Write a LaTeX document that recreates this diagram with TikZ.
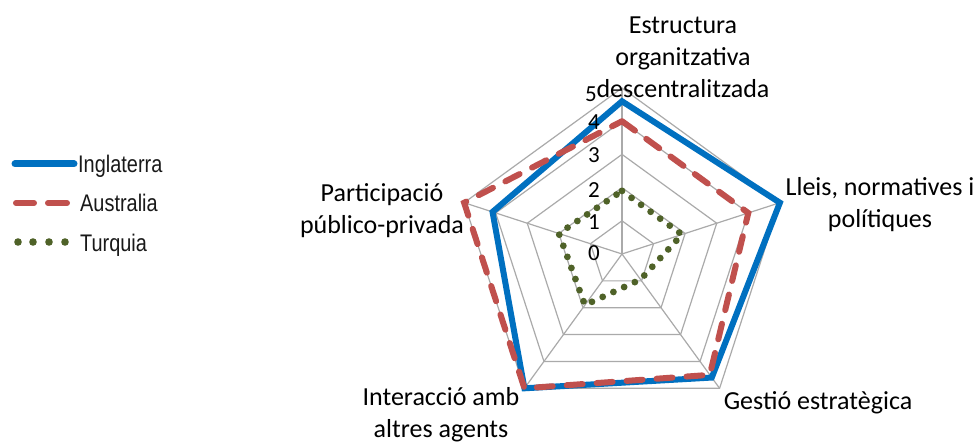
\documentclass[tikz,border=0pt]{standalone}
\usepackage{fontspec}
\setmainfont{Carlito}
\newfontfamily\legendfont[FakeStretch=0.83]{Liberation Sans}
\definecolor{ingblue}{RGB}{0,112,192}
\definecolor{ausred}{RGB}{192,80,77}
\definecolor{turgreen}{RGB}{79,98,40}
\definecolor{gridgray}{RGB}{170,170,170}
\def\rdu{33.2}
\tikzset{
  gridline/.style={draw=gridgray, line width=1.2pt},
  ingline/.style={draw=ingblue, line width=6pt, line join=miter},
  ausline/.style={draw=ausred, line width=6pt, line cap=round, dash pattern=on 16pt off 14pt},
  turline/.style={draw=turgreen, line width=6.8pt, line cap=round, dash pattern=on 0pt off 11.8pt},
  catlabel/.style={font=\fontsize{26}{32}\selectfont, align=center, inner sep=0pt},
  axlabel/.style={font=\fontsize{23}{26}\selectfont, inner sep=0pt, anchor=east},
  legtext/.style={font=\legendfont\fontsize{24}{28}\selectfont, inner sep=0pt, anchor=base west, text=black!90},
  turdot/.style={fill=turgreen, draw=none},
}
\begin{document}
\begin{tikzpicture}[x=1pt,y=1pt]
\useasboundingbox (0,0) rectangle (977,442);
\fill[white] (0,0) rectangle (977,442);

% ---------------- radar chart ----------------
\begin{scope}[shift={(622,188)}]
  \coordinate (c) at (0,0);
  \foreach \r in {1,...,5}{
    \draw[gridline] (90:{\r*\rdu}) -- (18:{\r*\rdu}) -- (-54:{\r*\rdu}) -- (-126:{\r*\rdu}) -- (162:{\r*\rdu}) -- cycle;
  }
  \foreach \a in {90,18,-54,-126,162}{
    \draw[gridline] (c) -- (\a:{5*\rdu});
  }
  % Inglaterra
  \draw[ingline] (90:{4.6*\rdu}) -- (18:{5*\rdu}) -- (-54:{4.6*\rdu}) -- (-126:{5*\rdu}) -- (162:{4.1*\rdu}) -- cycle;
  % Australia
  \draw[ausline] (90:{4.0*\rdu}) -- (18:{4.0*\rdu}) -- (-54:{4.5*\rdu}) -- (-126:{5*\rdu}) -- (162:{5*\rdu}) -- cycle;
  % Turquia
  \draw[turline] (90:{1.9*\rdu}) -- (18:{1.9*\rdu}) -- (-54:{0.95*\rdu}) -- (-126:{1.9*\rdu}) -- (162:{2.0*\rdu}) -- cycle;
\end{scope}

% axis value labels
\node[axlabel] (v0) at (600,189) {0};
\node[axlabel] (v1) at (600,220) {1};
\node[axlabel] (v2) at (600,252) {2};
\node[axlabel] (v3) at (600,287) {3};
\node[axlabel] (v4) at (600,320) {4};
\node[axlabel] (v5) at (597,348) {5};

% category labels
\node[catlabel] (lab-top) at (683,384.5) {Estructura\\organitzativa\\descentralitzada};
\node[catlabel] (lab-right) at (880,237) {Lleis, normatives i\\polítiques};
\node[catlabel, anchor=base] (lab-br) at (818,33) {Gestió estratègica};
\node[catlabel] (lab-bl) at (441,27.5) {Interacció amb\\altres agents};
\node[catlabel] (lab-left) at (382,231) {Participació\\público-privada};

% ---------------- legend ----------------
\coordinate (l1a) at (15,278);
\coordinate (l1b) at (74,278);
\draw[draw=ingblue, line width=7pt, line cap=round] (l1a) -- (l1b);
\node[legtext] (leg1) at (78,269) {Inglaterra};

\coordinate (l2a) at (16,239);
\coordinate (l2b) at (34,239);
\coordinate (l2c) at (48,239);
\coordinate (l2d) at (67,239);
\draw[draw=ausred, line width=6pt, line cap=round] (l2a) -- (l2b);
\draw[draw=ausred, line width=6pt, line cap=round] (l2c) -- (l2d);
\node[legtext] (leg2) at (80,230) {Australia};

\foreach \x in {18,33,49,65}{
  \fill[turdot] (\x,200) circle (3.8);
}
\node[legtext] (leg3) at (80,190.5) {Turquia};
\end{tikzpicture}
\end{document}
